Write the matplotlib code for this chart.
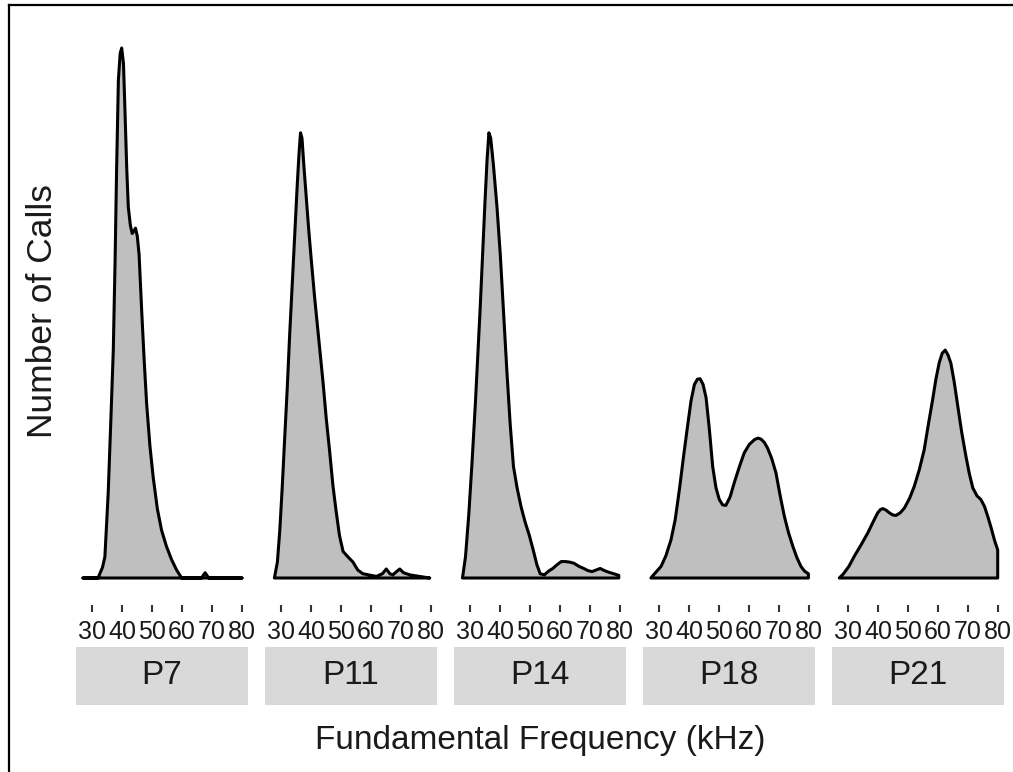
import numpy as np
import matplotlib
matplotlib.use("Agg")
import matplotlib.pyplot as plt
from matplotlib.lines import Line2D

plt.rcParams['font.family'] = ['Liberation Sans', 'DejaVu Sans']

panels = ["P7", "P11", "P14", "P18", "P21"]
xticks = [30, 40, 50, 60, 70, 80]

p7_freq = [27.0, 32.0, 33.5, 34.3, 35.4, 36.3, 37.1, 37.7, 38.2, 38.8, 39.4, 39.9, 40.5, 41.0,
           41.6, 42.1, 42.8, 43.4, 44.0, 44.5, 45.1, 45.7, 46.6, 47.4, 48.2, 49.3, 50.4, 51.8,
           53.2, 54.8, 56.5, 58.2, 59.9, 66.5, 67.7, 68.9, 80.0]
p7_calls = [0.0, 0.0, 0.02, 0.04, 0.16, 0.30, 0.43, 0.60, 0.77, 0.94, 0.99, 1.00, 0.97, 0.88,
            0.77, 0.70, 0.665, 0.65, 0.655, 0.66, 0.645, 0.61, 0.50, 0.41, 0.33, 0.25, 0.19, 0.13,
            0.09, 0.06, 0.035, 0.015, 0.0, 0.0, 0.01, 0.0, 0.0]

p11_freq = [27.8, 28.8, 29.6, 30.4, 31.2, 32.1, 32.9, 33.8, 34.6, 35.4, 36.0, 36.5, 37.0, 37.6,
            38.4, 39.2, 40.1, 41.2, 42.6, 44.0, 45.1, 46.2, 47.3, 48.4, 49.5, 50.7, 52.3, 54.0,
            55.6, 57.3, 61.8, 63.8, 65.1, 66.3, 67.3, 68.5, 69.6, 70.8, 72.9, 75.0, 79.6]
p11_calls = [0.0, 0.03, 0.09, 0.17, 0.26, 0.36, 0.46, 0.56, 0.65, 0.74, 0.80, 0.84, 0.83, 0.78,
             0.72, 0.66, 0.60, 0.53, 0.45, 0.37, 0.30, 0.24, 0.175, 0.125, 0.08, 0.05, 0.04, 0.03,
             0.015, 0.008, 0.003, 0.008, 0.017, 0.008, 0.006, 0.012, 0.017, 0.01, 0.006, 0.004, 0.0]

p14_freq = [27.5, 28.5, 29.6, 30.7, 31.8, 32.6, 33.4, 34.2, 35.0, 35.7, 36.3, 36.9, 37.8, 39.0,
            40.1, 41.2, 42.3, 43.4, 44.5, 45.7, 47.0, 48.4, 49.8, 51.2, 52.3, 53.4, 54.8, 56.2,
            57.6, 59.0, 60.4, 61.8, 63.2, 64.6, 66.3, 67.9, 69.3, 70.7, 72.0, 73.4, 74.8, 76.2,
            77.9, 79.6]
p14_calls = [0.0, 0.04, 0.12, 0.22, 0.33, 0.42, 0.51, 0.61, 0.71, 0.79, 0.84, 0.83, 0.78, 0.70,
             0.61, 0.50, 0.39, 0.29, 0.21, 0.17, 0.135, 0.105, 0.08, 0.05, 0.025, 0.008, 0.006,
             0.013, 0.018, 0.025, 0.031, 0.031, 0.030, 0.028, 0.022, 0.018, 0.014, 0.012, 0.015,
             0.018, 0.014, 0.011, 0.008, 0.005]

p18_freq = [27.3, 28.5, 30.7, 32.3, 34.0, 35.4, 36.8, 38.2, 39.6, 40.7, 41.8, 42.8, 43.7, 44.7,
            45.7, 46.8, 47.9, 49.0, 50.1, 51.2, 52.3, 53.7, 55.1, 56.8, 58.4, 60.1, 61.8, 63.0,
            64.0, 65.1, 66.2, 67.6, 69.0, 70.4, 71.8, 73.2, 74.6, 76.0, 77.3, 78.5, 79.8]
p18_calls = [0.0, 0.008, 0.022, 0.042, 0.072, 0.11, 0.167, 0.23, 0.29, 0.335, 0.365, 0.375, 0.376,
             0.365, 0.34, 0.28, 0.21, 0.17, 0.148, 0.138, 0.137, 0.153, 0.18, 0.21, 0.236, 0.252,
             0.261, 0.264, 0.262, 0.256, 0.245, 0.225, 0.198, 0.155, 0.116, 0.085, 0.06, 0.038,
             0.022, 0.013, 0.008]

p21_freq = [27.1, 28.5, 30.3, 32.1, 34.3, 36.6, 38.3, 39.9, 40.8, 41.6, 42.7, 43.8, 44.9, 46.0,
            47.4, 48.8, 50.5, 52.1, 53.8, 55.4, 56.8, 58.2, 59.3, 60.4, 61.4, 62.4, 63.4, 64.3,
            65.4, 66.6, 67.9, 69.3, 70.4, 71.6, 73.0, 74.3, 75.5, 76.6, 77.7, 78.8, 79.9]
p21_calls = [0.0, 0.008, 0.022, 0.041, 0.062, 0.085, 0.105, 0.123, 0.129, 0.131, 0.128, 0.123,
             0.119, 0.118, 0.123, 0.132, 0.15, 0.173, 0.205, 0.242, 0.29, 0.336, 0.375, 0.406,
             0.424, 0.43, 0.42, 0.405, 0.37, 0.324, 0.275, 0.23, 0.198, 0.17, 0.155, 0.148, 0.135,
             0.116, 0.095, 0.072, 0.053]

series = [(p7_freq, p7_calls), (p11_freq, p11_calls), (p14_freq, p14_calls),
          (p18_freq, p18_calls), (p21_freq, p21_calls)]

W, H = 1013, 772
fig = plt.figure(figsize=(W / 100, H / 100), dpi=100)
fig.patch.set_facecolor("white")

panel_w = 172
gap = 17
left0 = 76
top_px, bot_px = 21.5, 604.5
strip_top, strip_bot = 647, 705

for i, (name, (fx, fy)) in enumerate(zip(panels, series)):
    lpx = left0 + i * (panel_w + gap)
    ax = fig.add_axes([lpx / W, (H - bot_px) / H, panel_w / W, (bot_px - top_px) / H])
    x = np.asarray(fx)
    y = np.asarray(fy)
    xp = np.concatenate([x, [x[-1], x[0], x[0]]])
    yp = np.concatenate([y, [0.0, 0.0, y[0]]])
    ax.fill(xp, yp, facecolor="#bfbfbf", edgecolor="black", linewidth=2.2, joinstyle="round")
    ax.set_xlim(24.67, 82.0)
    ax.set_ylim(-0.05, 1.05)
    for s in ax.spines.values():
        s.set_visible(False)
    ax.set_yticks([])
    ax.set_xticks(xticks)
    ax.set_xticklabels([str(t) for t in xticks], fontsize=18, color="#1a1a1a")
    ax.tick_params(axis="x", length=5, width=1.5, color="#333333", pad=6)
    ax.set_facecolor("white")

    sax = fig.add_axes([lpx / W, (H - strip_bot) / H, panel_w / W, (strip_bot - strip_top) / H])
    sax.set_facecolor("#d9d9d9")
    for s in sax.spines.values():
        s.set_visible(False)
    sax.set_xticks([])
    sax.set_yticks([])
    sax.text(0.5, 0.5, name, ha="center", va="center", fontsize=24, color="#1a1a1a",
             transform=sax.transAxes)

fig.text(540 / W, 1 - 740 / H, "Fundamental Frequency (kHz)", ha="center", va="center",
         fontsize=24, color="#1a1a1a")
fig.text(43 / W, 1 - 311 / H, "Number of Calls", ha="center", va="center", rotation=90,
         fontsize=25.5, color="#1a1a1a")

# outer frame (left and top edges visible)
fig.add_artist(Line2D([9 / W, 9 / W], [0, 1 - 5 / H], color="black", linewidth=1.6,
                      transform=fig.transFigure))
fig.add_artist(Line2D([9 / W, 1], [1 - 5 / H, 1 - 5 / H], color="black", linewidth=1.6,
                      transform=fig.transFigure))

fig.savefig("out.png", dpi=100, facecolor="white")
